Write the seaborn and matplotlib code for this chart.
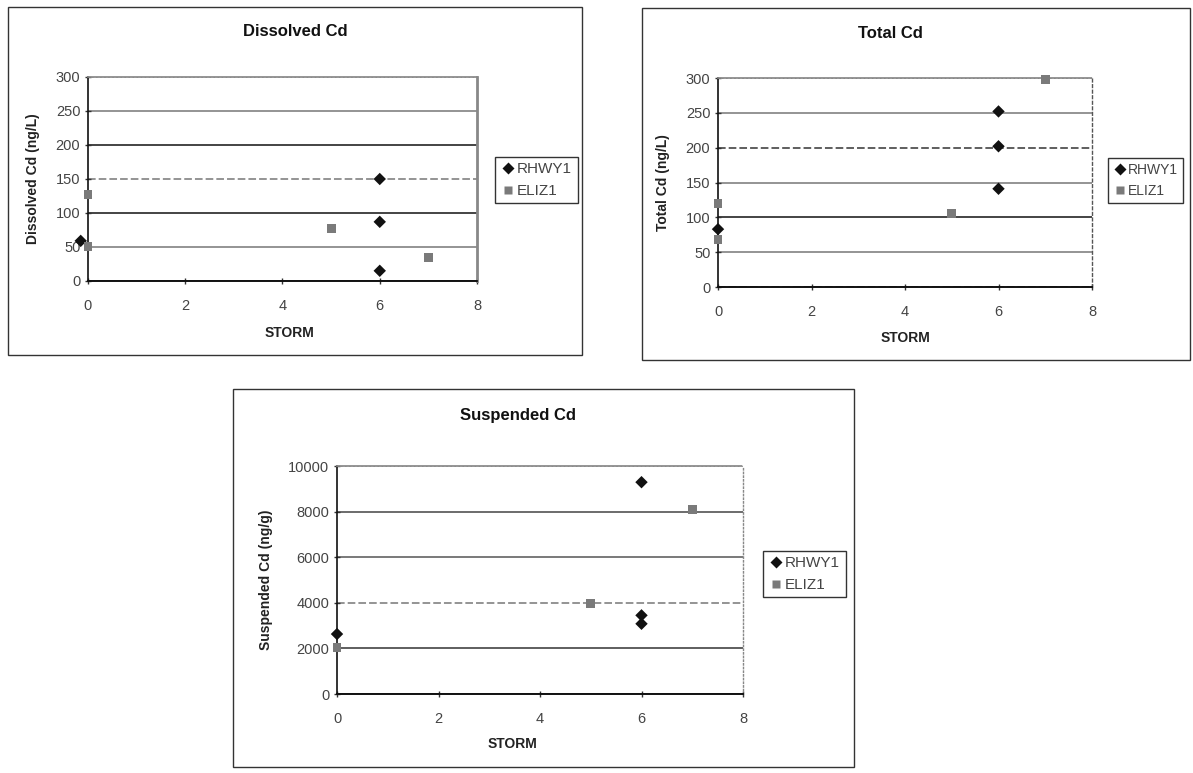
import numpy as np
import pandas as pd
import matplotlib
matplotlib.use("Agg")
import matplotlib.pyplot as plt
from matplotlib.patches import Rectangle
import seaborn as sns

# ---- data ----
sites = ["RHWY1", "ELIZ1"]

dis_storm_rhwy = [-0.15, 6, 6, 6]
dis_cd_rhwy = [59, 150, 87, 15]
dis_storm_eliz = [0, 0, 5, 7]
dis_cd_eliz = [127, 51, 77, 34]

tot_storm_rhwy = [0, 6, 6, 6]
tot_cd_rhwy = [83, 252, 202, 141]
tot_storm_eliz = [0, 0, 5, 7]
tot_cd_eliz = [120, 68, 105, 298]

sus_storm_rhwy = [0, 6, 6, 6]
sus_cd_rhwy = [2630, 9290, 3450, 3080]
sus_storm_eliz = [0, 5, 7]
sus_cd_eliz = [2030, 3970, 8100]

x_ticks = [0, 2, 4, 6, 8]
dis_y_ticks = [0, 50, 100, 150, 200, 250, 300]
tot_y_ticks = [0, 50, 100, 150, 200, 250, 300]
sus_y_ticks = [0, 2000, 4000, 6000, 8000, 10000]


def make_frame(storm_r, val_r, storm_e, val_e):
    return pd.DataFrame({
        "STORM": list(storm_r) + list(storm_e),
        "Cd": list(val_r) + list(val_e),
        "site": [sites[0]] * len(storm_r) + [sites[1]] * len(storm_e),
    })


sns.set_theme(style="white")
plt.rcParams["font.family"] = ["Liberation Sans", "DejaVu Sans"]

W, H = 1193, 773
fig = plt.figure(figsize=(W / 100, H / 100), dpi=100)


def px_axes(x0, y0, x1, y1):
    return fig.add_axes([x0 / W, 1 - y1 / H, (x1 - x0) / W, (y1 - y0) / H])


def px_frame(x0, y0, x1, y1):
    fig.add_artist(Rectangle((x0 / W, 1 - y1 / H), (x1 - x0) / W, (y1 - y0) / H,
                             transform=fig.transFigure, fill=False,
                             edgecolor="#333333", linewidth=1.0))


palette = {"RHWY1": "#111111", "ELIZ1": "#7a7a7a"}
markers = {"RHWY1": "D", "ELIZ1": "s"}


def draw_panel(ax, df, yticks, ylabel, grid_styles, right_style, legend_box, legend_fs=11):
    sns.scatterplot(data=df, x="STORM", y="Cd", hue="site", style="site",
                    palette=palette, markers=markers, s=40, edgecolor="none",
                    clip_on=False, zorder=5, ax=ax)
    ax.set_xlim(0, 8)
    ax.set_ylim(yticks[0], yticks[-1])
    ax.set_xticks(x_ticks)
    ax.set_yticks(yticks)
    ax.set_xlabel("")
    ax.set_ylabel(ylabel, fontsize=10, fontweight="bold", color="#222222", labelpad=11)
    ax.tick_params(axis="both", labelsize=10.5, labelcolor="#444444", length=4,
                   width=1, color="#333333", direction="inout", left=True, bottom=True)
    ax.tick_params(axis="x", pad=11)
    ax.grid(axis="y", linewidth=1.1)
    for line, (c, ls) in zip(ax.get_ygridlines(), grid_styles):
        line.set_color(c)
        line.set_linestyle(ls)
    ax.spines["left"].set_color("#111111")
    ax.spines["left"].set_linewidth(1.2)
    ax.spines["bottom"].set_color("#111111")
    ax.spines["bottom"].set_linewidth(1.4)
    ax.spines["bottom"].set_linestyle((0, (2, 1)))
    ax.spines["top"].set_color("#888888")
    ax.spines["top"].set_linestyle((0, (1, 1)))
    ax.spines["right"].set_color(right_style[0])
    ax.spines["right"].set_linestyle(right_style[1])
    ax.spines["right"].set_linewidth(right_style[2])
    handles, labels = ax.get_legend_handles_labels()
    x0, y0 = legend_box
    ax.legend(handles, labels, loc="upper left", bbox_to_anchor=(x0 / W, 1 - y0 / H),
              bbox_transform=fig.transFigure, fontsize=legend_fs, frameon=True,
              fancybox=False, edgecolor="#333333", framealpha=1,
              handletextpad=0.1, handlelength=1.0, borderpad=0.35,
              labelspacing=0.5, labelcolor="#444444", borderaxespad=0)
    ax.get_legend().get_frame().set_linewidth(1.0)


# Dissolved Cd
px_frame(8, 7, 582, 355)
ax1 = px_axes(88, 77, 477, 281)
draw_panel(ax1, make_frame(dis_storm_rhwy, dis_cd_rhwy, dis_storm_eliz, dis_cd_eliz),
           dis_y_ticks, "Dissolved Cd (ng/L)",
           [("#111111", "-"), ("#777777", "-"), ("#111111", "-"), ("#777777", (0, (5, 2))),
            ("#111111", "-"), ("#777777", "-"), ("#888888", ":")],
           ("#888888", "-", 2.0), (495, 157))
fig.text(295 / W, 1 - 32 / H, "Dissolved Cd", ha="center", va="center",
         fontsize=12, fontweight="bold", color="#111111")
fig.text(289 / W, 1 - 333 / H, "STORM", ha="center", va="center",
         fontsize=10, fontweight="bold", color="#222222")

# Total Cd
px_frame(642, 8, 1190, 360)
ax2 = px_axes(718, 78, 1092, 287)
draw_panel(ax2, make_frame(tot_storm_rhwy, tot_cd_rhwy, tot_storm_eliz, tot_cd_eliz),
           tot_y_ticks, "Total Cd (ng/L)",
           [("#111111", (0, (5, 2))), ("#777777", "-"), ("#111111", "-"), ("#777777", "-"),
            ("#333333", (0, (5, 2))), ("#777777", "-"), ("#666666", ":")],
           ("#555555", (0, (2, 2)), 1.0), (1108, 158), legend_fs=10)
fig.text(890 / W, 1 - 33 / H, "Total Cd", ha="center", va="center",
         fontsize=12, fontweight="bold", color="#111111")
fig.text(905 / W, 1 - 338 / H, "STORM", ha="center", va="center",
         fontsize=10, fontweight="bold", color="#222222")

# Suspended Cd
px_frame(233, 389, 854, 767)
ax3 = px_axes(337, 466, 743, 694)
draw_panel(ax3, make_frame(sus_storm_rhwy, sus_cd_rhwy, sus_storm_eliz, sus_cd_eliz),
           sus_y_ticks, "Suspended Cd (ng/g)",
           [("#111111", "-"), ("#333333", "-"), ("#777777", (0, (5, 2))), ("#555555", "-"),
            ("#444444", "-"), ("#888888", ":")],
           ("#888888", ":", 1.0), (763, 551))
ax3.spines["bottom"].set_linestyle("-")
fig.text(518 / W, 1 - 415 / H, "Suspended Cd", ha="center", va="center",
         fontsize=12, fontweight="bold", color="#111111")
fig.text(512 / W, 1 - 744 / H, "STORM", ha="center", va="center",
         fontsize=10, fontweight="bold", color="#222222")

fig.savefig("out.png", dpi=100, facecolor="white")
